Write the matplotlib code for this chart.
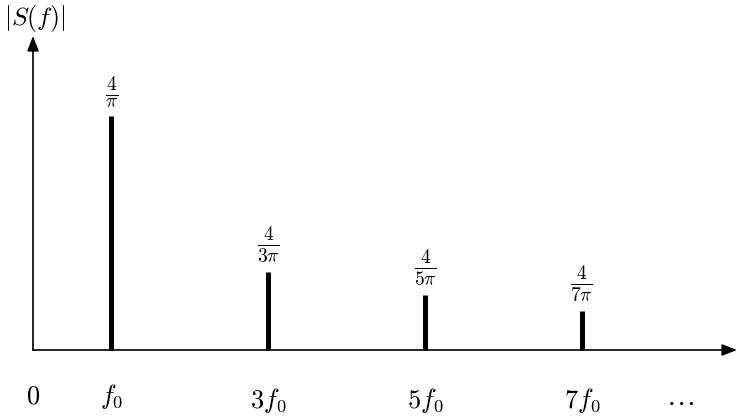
import matplotlib
matplotlib.use("Agg")
import matplotlib.pyplot as plt

plt.rcParams['mathtext.fontset'] = 'cm'
plt.rcParams['font.family'] = ['DejaVu Sans']

# data
harmonics = [1, 3, 5, 7]
amplitudes = [1.273, 0.424, 0.30, 0.212]
amp_labels = [r'$\frac{4}{\pi}$', r'$\frac{4}{3\pi}$', r'$\frac{4}{5\pi}$', r'$\frac{4}{7\pi}$']
tick_pos = [0, 1, 3, 5, 7]
tick_labels = [r'$0$', r'$f_0$', r'$3f_0$', r'$5f_0$', r'$7f_0$']

W, H = 738, 417
fig = plt.figure(figsize=(W / 100, H / 100), dpi=100)
ax = fig.add_axes([0, 0, 1, 1])
ax.set_axis_off()

x0_px, y0_px = 33.0, 350.0
sx, sy = 78.4, 183.8
ax.set_xlim(-x0_px / sx, (W - x0_px) / sx)
ax.set_ylim(-(H - y0_px) / sy, y0_px / sy)

def ypx(p):
    return (y0_px - p) / sy

# axes with arrows
arrow = dict(arrowstyle='-|>,head_length=0.9,head_width=0.35', mutation_scale=10,
             lw=1.2, color='black', shrinkA=0, shrinkB=0)
ax.annotate('', xy=((737 - x0_px) / sx, 0), xytext=(0, 0), arrowprops=arrow)
ax.annotate('', xy=(0, ypx(36)), xytext=(0, 0), arrowprops=arrow)

# spectral lines
ax.vlines(harmonics, 0, amplitudes, colors='black', lw=3.6)

for x, a, lab in zip(harmonics, amplitudes, amp_labels):
    ax.annotate(lab, xy=(x, a), xytext=(0, 6), textcoords='offset points',
                ha='center', va='bottom', fontsize=20)

# tick labels
label_y = [396, 397, 401, 401, 401]
for x, lab, yp in zip(tick_pos, tick_labels, label_y):
    ax.text(x, ypx(yp), lab, ha='center', va='center', fontsize=19)
ax.text((680 - x0_px) / sx, ypx(397), r'$\ldots$', ha='center', va='center', fontsize=21)

# y label
ax.text(0.02, ypx(18), r'$|S(f)|$', ha='center', va='center', fontsize=18.5)

fig.savefig('out.png', dpi=100)
